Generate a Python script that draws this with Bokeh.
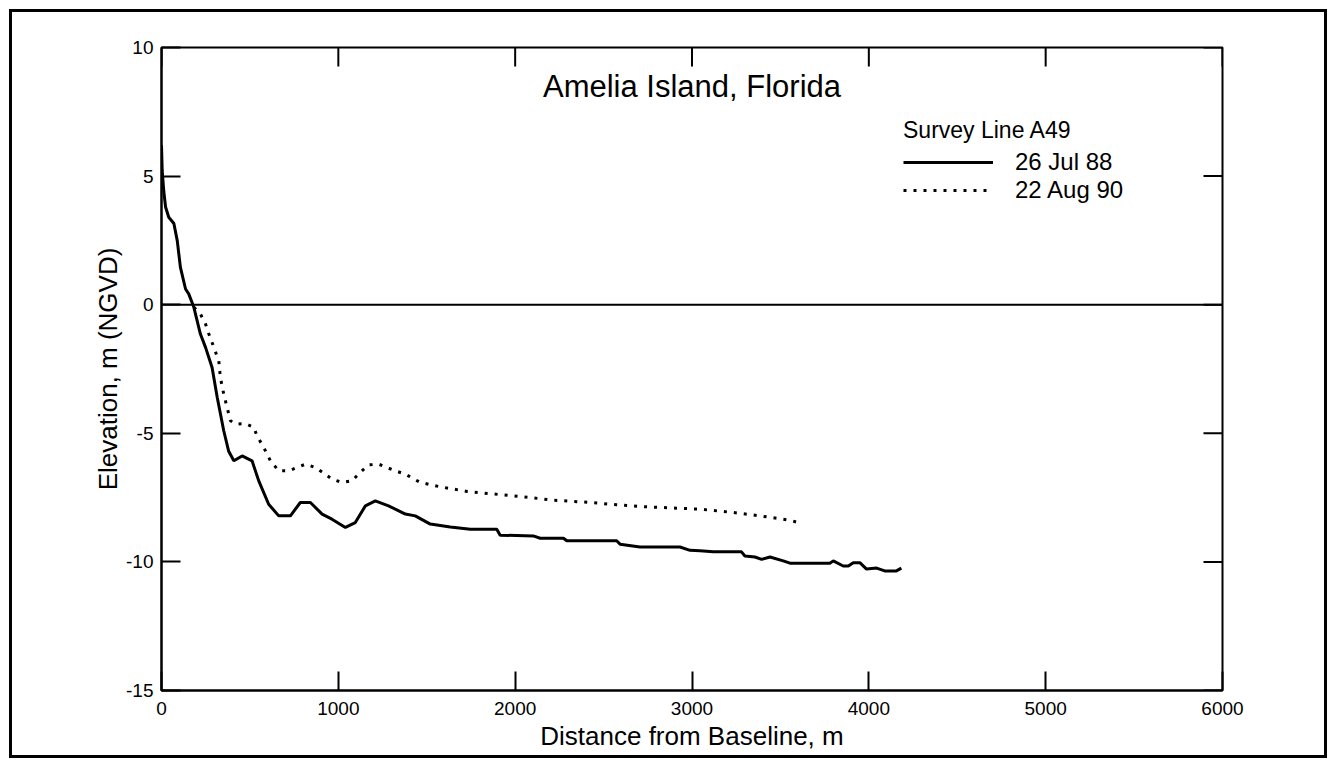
import math
from bokeh.plotting import figure
from bokeh.models import (Range1d, Span, Label, Legend, LegendItem,
                          FixedTicker, PrintfTickFormatter)
from bokeh.embed import file_html
from bokeh.resources import INLINE

# ---- data ----
jul88_x = [0, 4, 13, 23, 41, 70, 89, 107, 136, 154, 183, 220, 249, 286, 315, 352, 380, 409,
           456, 512, 550, 606, 663, 729, 785, 842, 908, 964, 1040, 1096, 1153, 1209, 1284,
           1379, 1435, 1520, 1633, 1746, 1896, 1915, 2103, 2141, 2273, 2292, 2574, 2593,
           2706, 2932, 2989, 3045, 3120, 3280, 3299, 3356, 3394, 3441, 3516, 3554, 3780,
           3799, 3855, 3884, 3912, 3949, 3987, 4044, 4090, 4156, 4184]
jul88_y = [6.2, 5.2, 4.4, 3.8, 3.4, 3.16, 2.49, 1.45, 0.61, 0.42, -0.1, -1.14, -1.66, -2.44,
           -3.6, -4.9, -5.7, -6.07, -5.88, -6.07, -6.85, -7.76, -8.21, -8.21, -7.69, -7.69,
           -8.14, -8.34, -8.66, -8.47, -7.82, -7.63, -7.82, -8.14, -8.21, -8.53, -8.64,
           -8.73, -8.73, -8.96, -8.99, -9.08, -9.08, -9.18, -9.18, -9.31, -9.42, -9.42,
           -9.55, -9.57, -9.61, -9.61, -9.77, -9.81, -9.9, -9.81, -9.96, -10.05, -10.05,
           -9.96, -10.16, -10.16, -10.03, -10.03, -10.28, -10.24, -10.35, -10.35, -10.24]

aug90_x = [183, 220, 249, 268, 296, 324, 333, 352, 371, 390, 418, 475, 522, 540, 578, 616,
           663, 720, 767, 814, 870, 926, 964, 1021, 1077, 1124, 1171, 1228, 1322, 1379, 1463,
           1576, 1727, 1878, 2047, 2217, 2424, 2574, 2744, 2913, 3045, 3233, 3384, 3554, 3601]
aug90_y = [-0.1, -0.36, -0.75, -1.14, -1.66, -2.18, -2.83, -3.48, -4.0, -4.51, -4.64, -4.62,
           -4.77, -5.1, -5.55, -6.07, -6.46, -6.46, -6.33, -6.2, -6.33, -6.59, -6.78, -6.91,
           -6.85, -6.52, -6.23, -6.2, -6.46, -6.59, -6.91, -7.08, -7.26, -7.36, -7.47, -7.6,
           -7.69, -7.78, -7.86, -7.91, -7.95, -8.08, -8.21, -8.38, -8.47]

x_ticks = [0, 1000, 2000, 3000, 4000, 5000, 6000]
y_ticks = [-15, -10, -5, 0, 5, 10]
series_labels = ["26 Jul 88", "22 Aug 90"]
legend_title = "Survey Line A49"
chart_title = "Amelia Island, Florida"
x_title = "Distance from Baseline, m"
y_title = "Elevation, m (NGVD)"

FONT = "Liberation Sans"

p = figure(width=1318, height=749, output_backend="svg", toolbar_location=None,
           x_range=Range1d(x_ticks[0], x_ticks[-1]), y_range=Range1d(y_ticks[0], y_ticks[-1]),
           x_axis_label=x_title, y_axis_label=y_title,
           min_border_left=149, min_border_right=108, min_border_top=35, min_border_bottom=71)
p.styles = {"border": "3px solid black", "margin": "9px 0px 0px 9px"}
p.grid.visible = False
p.outline_line_color = "black"
p.outline_line_width = 2
p.background_fill_color = "white"
p.border_fill_color = "white"

bottom = p.below[0]
left = p.left[0]
bottom.ticker = FixedTicker(ticks=x_ticks)
left.ticker = FixedTicker(ticks=y_ticks)

for ax in [bottom, left]:
    ax.formatter = PrintfTickFormatter(format="%d")
    ax.major_tick_in = 19
    ax.major_tick_out = 0
    ax.minor_tick_in = 0
    ax.minor_tick_out = 0
    ax.axis_line_color = "black"
    ax.axis_line_width = 2
    ax.major_tick_line_color = "black"
    ax.major_tick_line_width = 2
    ax.major_label_text_font = FONT
    ax.major_label_text_font_size = "19px"
    ax.major_label_text_color = "black"
    ax.axis_label_text_font = FONT
    ax.axis_label_text_font_size = "26px"
    ax.axis_label_text_font_style = "normal"
    ax.axis_label_text_color = "black"

bottom.major_label_standoff = 11
bottom.axis_label_standoff = 3
left.major_label_standoff = 8
left.axis_label_standoff = 0

# inward ticks on the top and right frame edges, at the same tick values
p.ray(x=x_ticks, y=[y_ticks[-1]] * len(x_ticks), length=19, length_units="screen",
      angle=-math.pi / 2, line_color="black", line_width=2)
p.ray(x=[x_ticks[-1]] * len(y_ticks), y=y_ticks, length=19, length_units="screen",
      angle=math.pi, line_color="black", line_width=2)

p.add_layout(Span(location=0, dimension="width", line_color="black", line_width=2))

r1 = p.line(jul88_x, jul88_y, line_color="black", line_width=3)
r2 = p.line(aug90_x, aug90_y, line_color="black", line_width=3, line_dash="3 7")

p.add_layout(Label(x=3000, y=8.5, text=chart_title, text_align="center",
                   text_baseline="middle", text_font=FONT, text_font_size="31px",
                   text_color="black"))

legend = Legend(items=[LegendItem(label=series_labels[0], renderers=[r1]),
                       LegendItem(label=series_labels[1], renderers=[r2])],
                title=legend_title, location=(742, 486),
                glyph_width=90, glyph_height=20, label_standoff=22, spacing=0,
                padding=0, margin=0, border_line_color=None, background_fill_alpha=0,
                label_text_font=FONT, label_text_font_size="24px", label_text_color="black",
                title_text_font=FONT, title_text_font_size="23px", title_text_color="black",
                title_text_font_style="normal", title_standoff=4)
p.add_layout(legend)

open("out.html", "w").write(file_html(p, INLINE))
